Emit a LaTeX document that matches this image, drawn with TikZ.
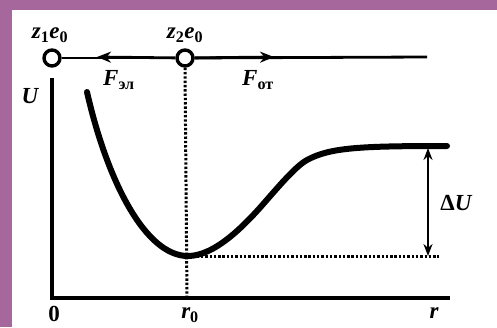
\documentclass[tikz,border=0pt]{standalone}
\usepackage{fontspec}
\setmainfont{Liberation Serif}
\newfontfamily\cyrfont{Liberation Serif}
\usetikzlibrary{arrows.meta}
\definecolor{bgpurple}{RGB}{166,104,156}
\begin{document}
\begin{tikzpicture}[x=1pt,y=-1pt,
  lbl/.style={font=\fontsize{23}{23}\selectfont\bfseries\itshape, inner sep=0pt},
  charge/.style={circle, draw, line width=3.4pt, minimum size=16pt, inner sep=0pt, fill=white},
  axisline/.style={line width=4pt, line cap=rect},
  thinline/.style={line width=2.8pt},
  dotline/.style={line width=3pt, line cap=butt, dash pattern=on 2.4pt off 1.9pt},
  curveline/.style={line width=6pt, line cap=round},
  forcearrow/.style={line width=2.8pt, -{Stealth[length=14pt,width=11pt]}},
  duarrow/.style={line width=2.8pt, {Stealth[length=12pt,width=9pt]}-{Stealth[length=12pt,width=9pt]}}
]
\fill[bgpurple] (0,0) rectangle (497,327);
\fill[white] (12,10) rectangle (497,327);
\useasboundingbox (0,0) rectangle (497,327);

% charges and top line
\node[charge] (q1) at (52,58) {};
\node[charge] (q2) at (185,58) {};
\coordinate (lineend) at (427,57);
\coordinate (tipL) at (97,57);
\coordinate (tipR) at (274,57);
\draw[thinline] (q1) -- (q2);
\draw[thinline] (q2) -- (lineend);
\draw[forcearrow] (q2) -- (tipL);
\draw[forcearrow] (q2) -- (tipR);

\node[lbl] (z1) at (50,35) {z\textsubscript{\upshape 1}e\textsubscript{\upshape 0}};
\node[lbl] (z2) at (185,35) {z\textsubscript{\upshape 2}e\textsubscript{\upshape 0}};
\node[lbl] (Fel) at (119,80) {F\textsubscript{\cyrfont\upshape эл}};
\node[lbl] (Fot) at (258,80) {F\textsubscript{\cyrfont\upshape от}};

% axes
\coordinate (O) at (52,298);
\coordinate (ytop) at (52,80);
\coordinate (xend) at (448,298);
\draw[axisline] (ytop) -- (O) -- (xend);
\node[lbl] (U) at (30,96) {U};
\node[lbl] (zero) at (54,314) {\upshape 0};
\node[lbl] (r0) at (190,315) {r\textsubscript{\upshape 0}};
\node[lbl] (r) at (434,313) {r};

% potential curve
\coordinate (cstart) at (87,92);
\coordinate (cmin) at (188,256);
\coordinate (cinf) at (265,202);
\coordinate (cshoulder) at (307,160);
\coordinate (cend) at (447,146);
\draw[curveline] (cstart) .. controls (107,180) and (145,256) .. (cmin)
  .. controls (215,256) and (245,225) .. (cinf)
  .. controls (279,186) and (296,166) .. (cshoulder)
  .. controls (330,147.5) and (360,146) .. (cend);

% dotted guides
\coordinate (r0foot) at (187,298);
\coordinate (dotend) at (439,256);
\draw[dotline] (q2.south) -- (r0foot);
\draw[dotline] (cmin) -- (dotend);

% Delta U
\coordinate (duTop) at (428,148);
\coordinate (duBot) at (428,256);
\draw[duarrow] (duTop) -- (duBot);
\node[lbl] (dU) at (456,203) {{\upshape Δ}U};
\end{tikzpicture}
\end{document}
